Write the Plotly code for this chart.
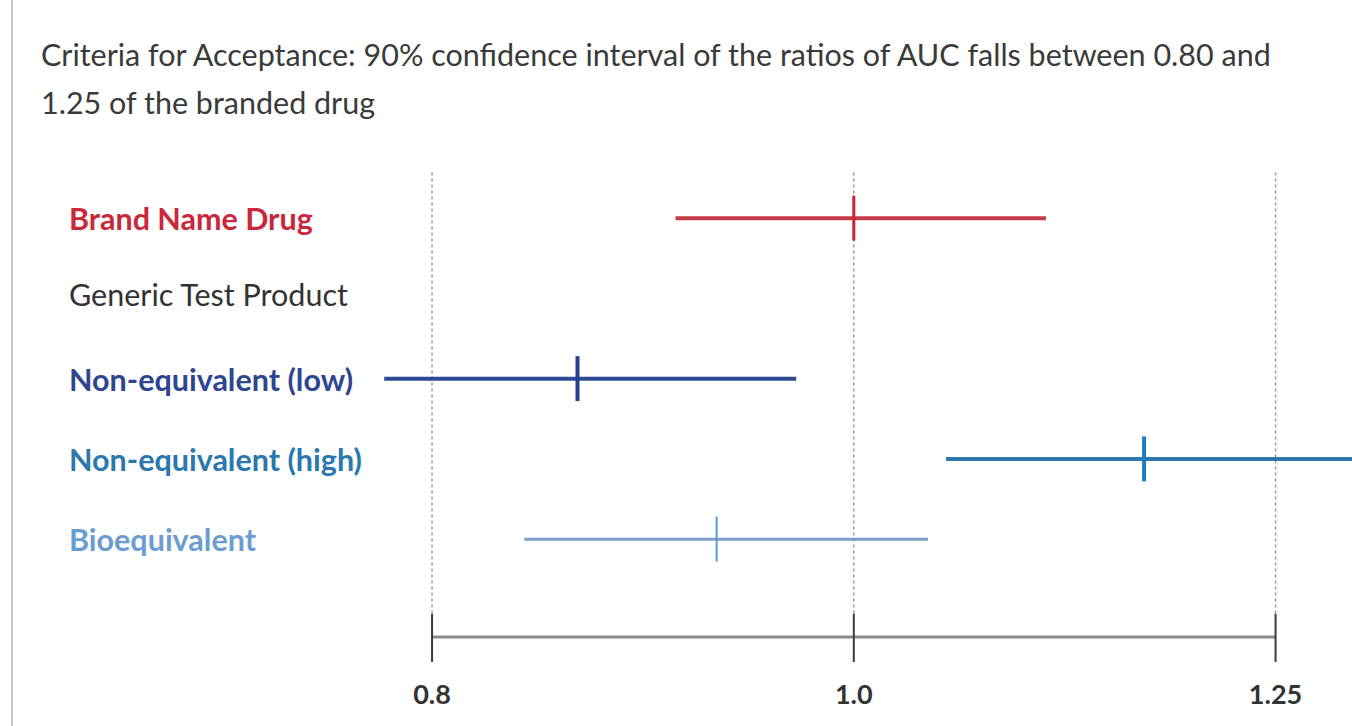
import plotly.graph_objects as go
import math

# ---- data ----
categories = ["Brand Name Drug", "Generic Test Product", "Non-equivalent (low)",
              "Non-equivalent (high)", "Bioequivalent"]
label_colors = ["#C8283A", "#333333", "#2E4690", "#2A78AE", "#6C9DD2"]
label_bold = [True, False, True, True, True]
row_pos = [0, 0.95, 2, 3, 4]

series_names = ["Brand Name Drug", "Non-equivalent (low)", "Non-equivalent (high)", "Bioequivalent"]
series_rows = [0, 2, 3, 4]
ci_low = [0.91, 0.78, 1.05, 0.84]
ci_high = [1.107, 0.97, 1.32, 1.04]
point_est = [1.0, 0.864, 1.166, 0.93]
line_colors = ["#C23A48", "#2D4A92", "#2E78AE", "#7C9DC6"]
tick_colors = ["#D0202F", "#27408C", "#1F7DBE", "#5B9BD5"]
line_widths = [4, 4, 4, 3]
tick_widths = [3, 4, 4, 2]

axis_ticks = [0.8, 1.0, 1.25]
axis_tick_text = ["0.8", "1.0", "1.25"]

title_lines = ["Criteria for Acceptance: 90% confidence interval of the ratios of AUC falls between 0.80 and",
               "1.25 of the branded drug"]

FONT = "Lato"
W, H = 1352, 726
ML, MR, MT, MB = 380, 0, 170, 56

# log axis mapping fitted to the reference
a_px, b_px = 853.8, 4352.0
x_lo = 10 ** ((ML - a_px) / b_px)
x_hi = 10 ** ((W - MR - a_px) / b_px)

fig = go.Figure()

# dotted reference lines at the criteria
for t in axis_ticks:
    fig.add_trace(go.Scatter(x=[t, t], y=[-0.57, 4.93], mode="lines",
                             line=dict(color="#9a9a9a", width=1.5, dash="dot"),
                             hoverinfo="skip", showlegend=False))

# axis baseline
fig.add_trace(go.Scatter(x=[axis_ticks[0], axis_ticks[-1]], y=[5.218, 5.218], mode="lines",
                         line=dict(color="#8a8a8a", width=3), hoverinfo="skip", showlegend=False))
for t in axis_ticks:
    fig.add_trace(go.Scatter(x=[t, t], y=[4.93, 5.53], mode="lines",
                             line=dict(color="#3a3a3a", width=2), hoverinfo="skip", showlegend=False))

# confidence intervals
for name, r, lo, hi, pe, lc, tc, lw, tw in zip(series_names, series_rows, ci_low, ci_high,
                                               point_est, line_colors, tick_colors,
                                               line_widths, tick_widths):
    fig.add_trace(go.Scatter(x=[lo, hi], y=[r, r], mode="lines", name=name,
                             line=dict(color=lc, width=lw), showlegend=False))
    fig.add_trace(go.Scatter(x=[pe, pe], y=[r - 0.28, r + 0.28], mode="lines", name=name,
                             line=dict(color=tc, width=tw), showlegend=False))

# row labels
plot_w = W - ML - MR
for cat, r, col, bold in zip(categories, row_pos, label_colors, label_bold):
    txt = f"<b>{cat}</b>" if bold else cat
    fig.add_annotation(x=(67 - ML) / plot_w, xref="paper", y=r, yref="y",
                       text=txt, showarrow=False, xanchor="left", yanchor="middle",
                       font=dict(family=FONT, size=30.5, color=col))

# title
for i, line in enumerate(title_lines):
    fig.add_annotation(x=(39 - ML) / plot_w, xref="paper", y=(H - 54 - 48 * i - MB) / (H - MT - MB),
                       yref="paper", text=line, showarrow=False, xanchor="left", yanchor="middle",
                       font=dict(family=FONT, size=30.5, color="#3a3a3a"))

# left border line
fig.add_shape(type="line", xref="paper", yref="paper",
              x0=(12 - ML) / plot_w, x1=(12 - ML) / plot_w, y0=-MB / (H - MT - MB),
              y1=(H - MB) / (H - MT - MB), line=dict(color="#c8c8c8", width=2))

span = (H - MT - MB) / 80.25
fig.update_layout(
    width=W, height=H, margin=dict(l=ML, r=MR, t=MT, b=MB),
    paper_bgcolor="white", plot_bgcolor="white",
    xaxis=dict(type="log", range=[math.log10(x_lo), math.log10(x_hi)],
               tickvals=axis_ticks, ticktext=axis_tick_text, showgrid=False,
               zeroline=False, showline=False, ticks="", ticklabelstandoff=6,
               tickfont=dict(family=FONT, size=27, color="#333333", weight="bold")),
    yaxis=dict(range=[-0.6 + span, -0.6], showgrid=False, zeroline=False,
               showticklabels=False, showline=False, ticks=""),
    showlegend=False,
)

fig.write_html("out.html")
